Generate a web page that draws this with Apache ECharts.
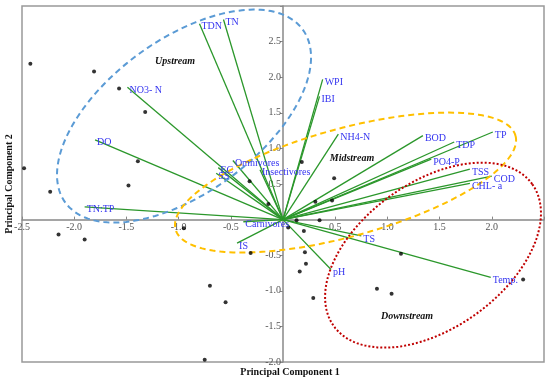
<!DOCTYPE html>
<html>
<head>
<meta charset="utf-8">
<script src="https://cdn.jsdelivr.net/npm/echarts@6/dist/echarts.min.js"></script>
<style>html,body{margin:0;padding:0;background:#fff}#c{width:550px;height:382px}</style>
</head>
<body>
<div id="c"></div>
<script>
// ---- data ----
const loadingNames = ['TDN','TN','NO3- N','DO','TN:TP','EC','SS','Omnivores','Insectivores','Carnivores','IS','pH','TS','Temp.','WPI','IBI','NH4-N','BOD','TDP','TP','PO4-P','TSS','COD','CHL- a'];
const loadingX = [-0.80,-0.57,-1.49,-1.80,-1.90,-0.62,-0.64,-0.48,-0.22,-0.38,-0.44,0.46,0.75,1.99,0.38,0.35,0.53,1.34,1.64,2.01,1.42,1.79,2.00,1.79];
const loadingY = [2.75,2.81,1.86,1.12,0.18,0.73,0.65,0.83,0.70,-0.03,-0.33,-0.70,-0.23,-0.81,1.97,1.73,1.20,1.18,1.09,1.23,0.85,0.71,0.61,0.51];
const scoreX = [-2.42,-1.81,-1.57,-1.32,-1.39,-2.48,-1.48,-2.23,-0.32,-2.15,-1.90,-0.95,-0.31,-0.70,-0.55,-0.75,-0.14,0.18,0.49,0.31,0.47,0.13,0.35,0.05,0.20,0.21,0.22,0.16,0.29,1.13,0.90,1.04,2.30];
const scoreY = [2.19,2.08,1.84,1.51,0.82,0.72,0.48,0.39,0.54,-0.21,-0.28,-0.12,-0.47,-0.93,-1.16,-1.97,0.22,0.81,0.58,0.25,0.27,-0.01,-0.01,-0.11,-0.16,-0.46,-0.62,-0.73,-1.10,-0.48,-0.97,-1.04,-0.84];
const regionNames = ['Upstream','Midstream','Downstream'];
const xTickLabels = ['-2.5','-2.0','-1.5','-1.0','-0.5','0.5','1.0','1.5','2.0'];
const yTickLabels = ['-2.0','-1.5','-1.0','-0.5','0.5','1.0','1.5','2.0','2.5'];

// ---- annotation geometry (data units): centre, two conjugate half-axis vectors, label anchor ----
const regionShapes = [
  {c:[-0.948,1.454], a:[1.137,1.215], b:[0.433,-0.872], label:[-1.034,2.219], color:'#5b9bd5', dash:[6,4]},
  {c:[0.599,0.520], a:[1.628,0.659], b:[0.137,-0.729], label:[0.661,0.857], color:'#ffc000', dash:[6,4]},
  {c:[1.437,-0.499], a:[0.951,0.996], b:[0.406,-0.834], label:[1.188,-1.362], color:'#c00000', dash:[2,2]}
];

const SERIF = '"Liberation Serif", "DejaVu Serif", serif';
const W = 550, H = 382;
const G = {left:22, right:6, top:6, bottom:20};
const X_MIN = -2.5, X_MAX = 2.5, Y_MIN = -2, Y_MAX = 3;
// offsets that move the axes onto the zero lines (axis line + ticks + labels together)
const plotW = W - G.left - G.right, plotH = H - G.top - G.bottom;
const xAxisOffset = -plotH * (0 - Y_MIN) / (Y_MAX - Y_MIN);
const yAxisOffset = -plotW * (0 - X_MIN) / (X_MAX - X_MIN);

const chart = echarts.init(document.getElementById('c'), null, {renderer:'canvas'});

const loadData = loadingNames.map((n,i)=>[loadingX[i], loadingY[i], n]);
const scoreData = scoreX.map((x,i)=>[x, scoreY[i]]);
const regionData = regionNames.map((n,i)=>[regionShapes[i].c[0], regionShapes[i].c[1], n]);

const fmt = (list) => (v) => { const s = v.toFixed(1); return list.indexOf(s) >= 0 ? s : ''; };

chart.setOption({
  animation:false,
  grid:{left:G.left, right:G.right, top:G.top, bottom:G.bottom, show:true, borderColor:'#999', borderWidth:1.5, containLabel:false},
  xAxis:{type:'value', min:X_MIN, max:X_MAX, interval:0.5, position:'bottom', offset:xAxisOffset,
    axisLine:{onZero:false, lineStyle:{color:'#888', width:1.5}},
    axisTick:{show:true, inside:true, length:3, lineStyle:{color:'#888'}},
    splitLine:{show:false},
    axisLabel:{formatter:fmt(xTickLabels), color:'#555', fontFamily:SERIF, fontSize:10, margin:3, showMinLabel:true, showMaxLabel:true, hideOverlap:false}
  },
  yAxis:{type:'value', min:Y_MIN, max:Y_MAX, interval:0.5, position:'left', offset:yAxisOffset,
    axisLine:{onZero:false, lineStyle:{color:'#888', width:1.5}},
    axisTick:{show:true, inside:false, length:3, lineStyle:{color:'#888'}},
    splitLine:{show:false},
    axisLabel:{formatter:fmt(yTickLabels), color:'#555', fontFamily:SERIF, fontSize:10, margin:2, showMinLabel:true, showMaxLabel:true, hideOverlap:false}
  },
  graphic:[
    {type:'text', x:290, y:372, style:{text:'Principal Component 1', font:'bold 10px '+SERIF, fill:'#111', align:'center', verticalAlign:'middle'}},
    {type:'text', x:4, y:184, rotation:Math.PI/2, style:{text:'Principal Component 2', font:'bold 10px '+SERIF, fill:'#111', align:'center', verticalAlign:'top'}}
  ],
  series:[
    {type:'custom', data:loadData, z:2, silent:true,
      renderItem:function(params, api){
        const p0 = api.coord([0,0]);
        const p1 = api.coord([api.value(0), api.value(1)]);
        return {type:'line', shape:{x1:p0[0], y1:p0[1], x2:p1[0], y2:p1[1]}, style:{stroke:'#2b972b', lineWidth:1.3}};
      }
    },
    {type:'custom', data:regionData, z:3, silent:true,
      renderItem:function(params, api){
        const r = regionShapes[params.dataIndex];
        const pts = [];
        for (let k=0;k<=180;k++){
          const t = k/180*Math.PI*2;
          const ct = Math.cos(t), st = Math.sin(t);
          pts.push(api.coord([r.c[0]+r.a[0]*ct+r.b[0]*st, r.c[1]+r.a[1]*ct+r.b[1]*st]));
        }
        const lp = api.coord(r.label);
        return {type:'group', children:[
          {type:'polyline', shape:{points:pts}, style:{stroke:r.color, lineWidth:2, lineDash:r.dash, fill:null}},
          {type:'text', x:lp[0], y:lp[1], style:{text:api.value(2), font:'italic bold 10px '+SERIF, fill:'#111', align:'center', verticalAlign:'middle'}}
        ]};
      }
    },
    {type:'scatter', data:scoreData, symbol:'circle', symbolSize:4, itemStyle:{color:'#000'}, z:4, silent:true},
    {type:'custom', data:loadData, z:5, silent:true,
      renderItem:function(params, api){
        const p1 = api.coord([api.value(0), api.value(1)]);
        return {type:'text', x:p1[0]+2, y:p1[1]+3, style:{text:api.value(2), font:'10px '+SERIF, fill:'#3535f0', align:'left', verticalAlign:'middle'}};
      }
    }
  ]
});
</script>
</body>
</html>
